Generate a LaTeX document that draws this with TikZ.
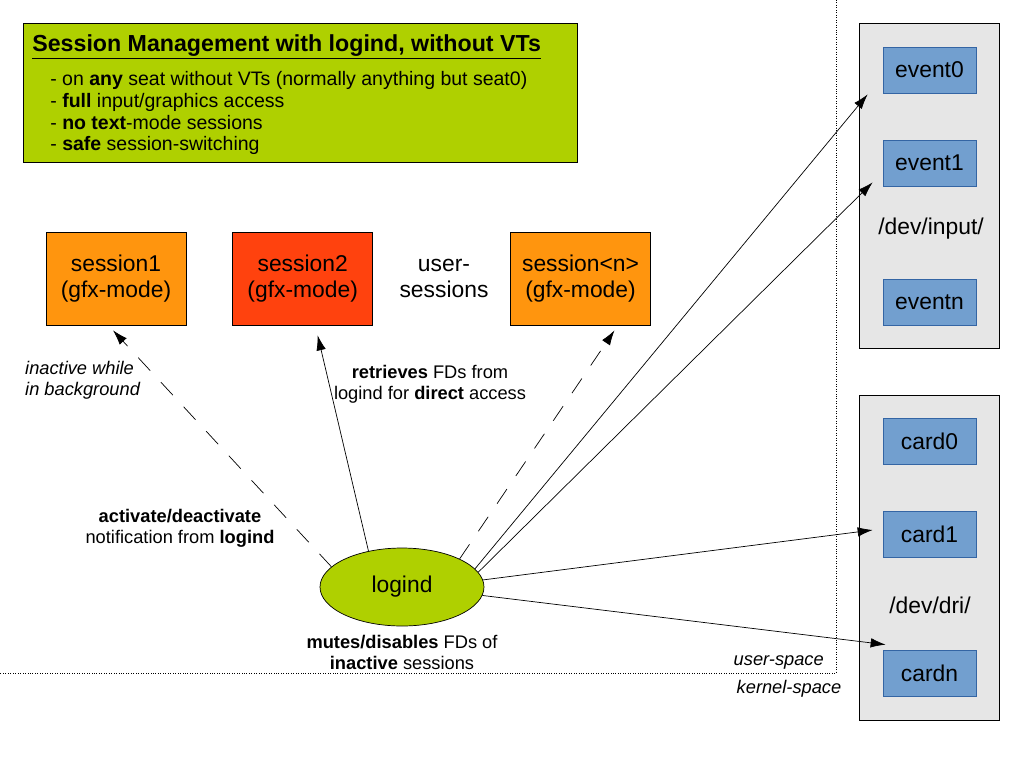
\documentclass[tikz,border=0pt]{standalone}
\usepackage{fontspec}
\setmainfont{Liberation Sans}
\usetikzlibrary{positioning}
\usetikzlibrary{calc}
\usetikzlibrary{shapes.geometric, arrows.meta}

\definecolor{seatgreen}{HTML}{AFD000}
\definecolor{sessorange}{HTML}{FF950E}
\definecolor{sessred}{HTML}{FF420E}
\definecolor{devblue}{HTML}{729FCF}
\definecolor{devedge}{HTML}{3465A4}
\definecolor{dirgrey}{HTML}{E6E6E6}

\tikzset{
    bigtext/.style={font=\fontsize{13}{14.8}\selectfont},
    sessbox/.style={draw, bigtext, minimum width=2.8cm, minimum height=1.86cm, align=center},
    dirbox/.style={draw, fill=dirgrey, minimum width=2.8cm, minimum height=6.5cm},
    devbox/.style={draw=devedge, fill=devblue, bigtext, minimum width=1.86cm, minimum height=0.92cm},
    note/.style={align=center, font=\fontsize{10.4}{12}\selectfont},
    link/.style={-{Latex[length=0.3cm, width=0.19cm]}},
    weaklink/.style={link, dash pattern=on 10pt off 9pt},
}

\begin{document}
\begin{tikzpicture}[x=0.02cm, y=-0.02cm]
        \useasboundingbox (0,0) rectangle (1024,768);

        % Info box
        \node[draw, fill=seatgreen, minimum width=11.08cm, minimum height=2.78cm] (info) at (300,92.5) {};
        \node[anchor=west, inner sep=0pt, font=\bfseries\fontsize{13.2}{15}\selectfont] (title) at (32,47)
            {\underline{Session Management with logind, without VTs}};
        \node[anchor=west, inner sep=0pt, align=left, font=\fontsize{11.1}{12.5}\selectfont] (bullets) at (50,113)
            {- on \textbf{any} seat without VTs (normally anything but seat0)\\
             - \textbf{full} input/graphics access\\
             - \textbf{no text}-mode sessions\\
             - \textbf{safe} session-switching};

        % User sessions
        \node[sessbox, fill=sessorange] (sess1) at (116,278.5) {session1\\(gfx-mode)};
        \node[sessbox, fill=sessred, right=0.92cm of sess1] (sess2) {session2\\(gfx-mode)};
        \node[align=center, bigtext] (usersess) at (444,278) {user-\\sessions};
        \node[sessbox, fill=sessorange] (sessn) at (580.5,278.5) {session<n>\\(gfx-mode)};

        % logind
        \node[ellipse, draw, fill=seatgreen, minimum width=3.28cm, minimum height=1.56cm, inner sep=0pt,
            bigtext] (logind) at (402,587) {logind};

        % Device directories
        \node[dirbox] (inputdir) at (929,185.5) {};
        \node[dirbox] (dridir) at (929,557.5) {};
        \foreach \name/\yy/\txt in {ev0/70/event0, ev1/163/event1, evn/302/eventn,
                                    card0/441/card0, card1/534/card1, cardn/673/cardn} {
            \node[devbox] (\name) at (929.5,\yy) {\txt};
        }
        \node[bigtext] (inputname) at (931,229) {/dev/input/};
        \node[bigtext] (driname) at (930,605) {/dev/dri/};

        % user-space / kernel-space split
        \coordinate (split) at (836,673);
        \draw[densely dotted] (836,0) -- (split) -- (0,673);
        \node[anchor=east, font=\itshape\fontsize{10.4}{12}\selectfont] (userspace) at (830,662) {user-space};
        \node[font=\itshape\fontsize{10.4}{12}\selectfont] (kernelspace) at (789,689) {kernel-space};

        % Arrows
        \draw[weaklink] (logind.164) -- ($(sess1.south)+(-3,5)$);
        \draw[link] (logind.133) -- ($(sess2.south)+(15,10)$);
        \draw[weaklink] (logind.26) -- ($(sessn.south)+(34,5)$);
        \draw[link] (logind.14) -- ($(ev0.south west)+(-15,1)$);
        \draw[link] (logind.11) -- ($(ev1.south west)+(-10,-4)$);
        \draw[link] (logind.5) -- ($(card1.west)+(-10,-4)$);
        \draw[link] (logind.-6) -- ($(cardn.north west)+(3,-5)$);

        % Labels
        \node[note, align=left, anchor=west, font=\itshape\fontsize{10.4}{12}\selectfont] (bgnote) at (19,380)
            {inactive while\\in background};
        \node[note] (fdnote) at (430,384) {\textbf{retrieves} FDs from\\logind for \textbf{direct} access};
        \node[note] (actnote) at (180,528) {\textbf{activate/deactivate}\\notification from \textbf{logind}};
        \node[note] (mutenote) at (402,652) {\textbf{mutes/disables} FDs of\\\textbf{inactive} sessions};
    \end{tikzpicture}
\end{document}
